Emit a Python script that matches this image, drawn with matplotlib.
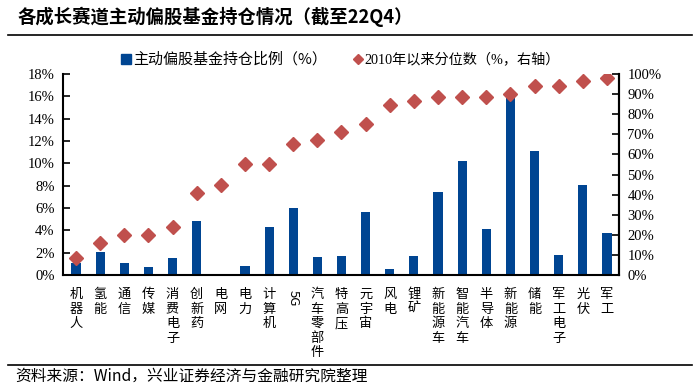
import matplotlib
matplotlib.use("Agg")
import matplotlib.pyplot as plt
from matplotlib.lines import Line2D
import numpy as np

categories = ["机器人", "氢能", "通信", "传媒", "消费电子", "创新药", "电网", "电力", "计算机", "5G",
              "汽车零部件", "特高压", "元宇宙", "风电", "锂矿", "新能源车", "智能汽车", "半导体",
              "新能源", "储能", "军工电子", "光伏", "军工"]
holding_pct = [1.05, 2.05, 1.05, 0.72, 1.5, 4.8, 0.0, 0.8, 4.33, 6.0,
               1.58, 1.66, 5.64, 0.5, 1.66, 7.42, 10.2, 4.1,
               16.05, 11.1, 1.8, 8.1, 3.72]
percentile = [8.3, 15.8, 19.8, 19.8, 23.8, 40.9, 45.0, 55.0, 55.0, 65.0,
              67.0, 71.0, 75.0, 84.8, 86.6, 88.7, 88.7, 88.7,
              90.2, 94.0, 94.0, 96.3, 98.2]
left_ticks = [0, 2, 4, 6, 8, 10, 12, 14, 16, 18]
right_ticks = [0, 10, 20, 30, 40, 50, 60, 70, 80, 90, 100]

title = "各成长赛道主动偏股基金持仓情况（截至22Q4）"
legend1 = "主动偏股基金持仓比例（%）"
legend2 = "2010年以来分位数（%，右轴）"
source = "资料来源：Wind，兴业证券经济与金融研究院整理"

BAR = "#004592"
DIA = "#C0504D"
CJK = ["Noto Sans CJK SC", "DejaVu Sans"]
SERIF = ["Liberation Serif", "Noto Sans CJK SC"]

W, H = 696, 392
fig = plt.figure(figsize=(W / 100, H / 100), dpi=100)
fig.patch.set_facecolor("white")

ax = fig.add_axes([63 / W, 1 - 275 / H, (619 - 63) / W, (275 - 74) / H])
x = np.arange(len(categories))
ax.bar(x, holding_pct, width=0.38, color=BAR, zorder=2)
ax.set_ylim(0, 18)
ax.set_xlim(-0.54, len(categories) - 0.5)
ax.set_yticks(left_ticks)
ax.set_yticklabels([f"{t}%" for t in left_ticks], family=SERIF, fontsize=10.5)
ax.tick_params(axis="y", direction="in", length=5, width=1.2, pad=6)
ax.set_xticks(x)
ax.set_xticklabels([])
ax.tick_params(axis="x", length=0)
ax.spines["top"].set_visible(False)
for s in ["left", "bottom", "right"]:
    ax.spines[s].set_linewidth(1.5)
    ax.spines[s].set_color("black")

ax2 = ax.twinx()
ax2.plot(x, percentile, linestyle="none", marker="D", markersize=7, color=DIA, zorder=3)
ax2.set_ylim(0, 100)
ax2.set_yticks(right_ticks)
ax2.set_yticklabels([f"{t}%" for t in right_ticks], family=SERIF, fontsize=10.5)
ax2.tick_params(axis="y", direction="in", length=5, width=1.2, pad=6)
ax2.spines["top"].set_visible(False)
ax2.spines["right"].set_linewidth(1.5)
ax2.spines["left"].set_visible(False)
ax2.spines["bottom"].set_visible(False)

# category labels (vertical stacked)
for i, c in enumerate(categories):
    if c == "5G":
        ax.text(i, -0.075, c, transform=ax.get_xaxis_transform(), ha="center", va="top",
                rotation=-90, fontsize=9.5, family=CJK)
    else:
        ax.text(i, -0.065, "\n".join(c), transform=ax.get_xaxis_transform(), ha="center", va="top",
                fontsize=9.5, family=CJK, linespacing=1.15)

# title and rules
fig.text(18 / W, 1 - 17 / H, title, fontsize=13.2, fontweight="bold", family=CJK, ha="left", va="center")
fig.add_artist(Line2D([8 / W, 692 / W], [1 - 35 / H, 1 - 35 / H], color="black", lw=1.2))
fig.add_artist(Line2D([8 / W, 692 / W], [1 - 365 / H, 1 - 365 / H], color="black", lw=1.2))
fig.text(15 / W, 1 - 376 / H, source, fontsize=11.3, family=CJK, ha="left", va="center")

# legend
ly = 1 - 59 / H
fig.add_artist(Line2D([126 / W], [ly], marker="s", markersize=6.5, color=BAR, linestyle="none"))
fig.text(133 / W, ly, legend1, fontsize=10.8, family=CJK, ha="left", va="center")
fig.add_artist(Line2D([358 / W], [ly], marker="D", markersize=5, color=DIA, linestyle="none"))
fig.text(364 / W, ly, legend2, fontsize=10.2, family=SERIF, ha="left", va="center")

fig.savefig("out.png", dpi=100)
